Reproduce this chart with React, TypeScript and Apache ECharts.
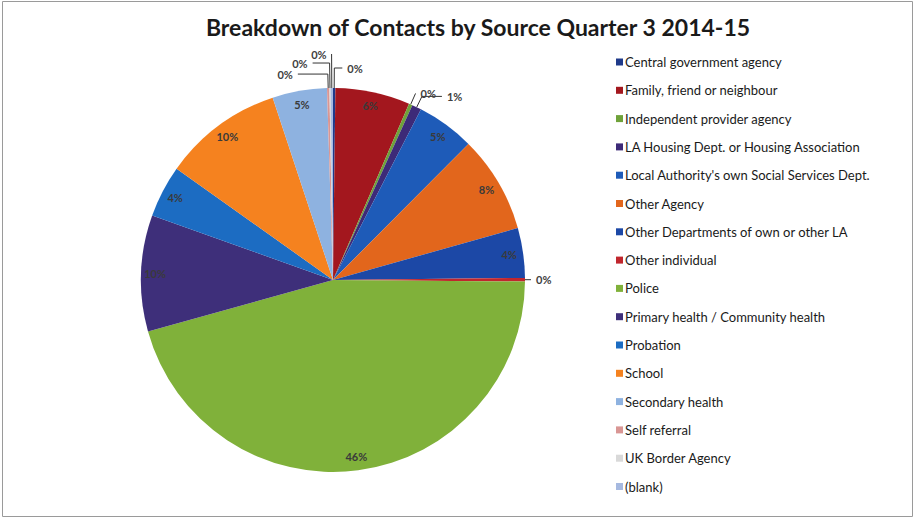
import React, { useEffect, useRef } from "react";
import * as echarts from "echarts";

const categories = [
  "Central government agency",
  "Family, friend or neighbour",
  "Independent provider agency",
  "LA Housing Dept. or Housing Association",
  "Local Authority's own Social Services Dept.",
  "Other Agency",
  "Other Departments of own or other LA",
  "Other individual",
  "Police",
  "Primary health / Community health",
  "Probation",
  "School",
  "Secondary health",
  "Self referral",
  "UK Border Agency",
  "(blank)",
];

const contacts = [2, 63, 3, 8, 49, 82, 42, 3, 457, 98, 44, 101, 46, 2, 1, 2];

const sliceColors = [
  "#1F3A8A",
  "#A3171E",
  "#6FA23A",
  "#3D2A78",
  "#1E5BB8",
  "#E2661C",
  "#1C48A6",
  "#C0262D",
  "#80B13A",
  "#3E2F7A",
  "#1C6CC2",
  "#F5821F",
  "#8EB2E0",
  "#D99694",
  "#D9D9D9",
  "#A6B9E0",
];

const titleText = "Breakdown of Contacts by Source Quarter 3 2014-15";

// leader line styling for the small outside labels (by category name)
const leaderStyle: Record<string, { length: number; length2: number }> = {
  "Central government agency": { length: 20, length2: 8 },
  "Independent provider agency": { length: 12, length2: 0 },
  "LA Housing Dept. or Housing Association": { length: 12, length2: 20 },
  "Other individual": { length: 3, length2: 3 },
  "Self referral": { length: 14, length2: 30 },
  "UK Border Agency": { length: 25, length2: 17 },
  "(blank)": { length: 34, length2: 0 },
};

export default function App() {
  const ref = useRef<HTMLDivElement>(null);

  useEffect(() => {
    document.body.style.margin = "0";
    const chart = echarts.init(ref.current!, null, { renderer: "svg" });
    const total = contacts.reduce((a, b) => a + b, 0);
    const isSmall = (v: number) => (v / total) * 100 < 2;
    const fmt = (p: any) => Math.round(p.percent) + "%";

    chart.setOption({
      animation: false,
      backgroundColor: "#ffffff",
      color: sliceColors,
      title: {
        text: titleText,
        left: 473,
        textAlign: "center",
        top: 10,
        textStyle: {
          fontFamily: "Lato",
          fontWeight: "bold",
          fontSize: 23,
          color: "#1a1a1a",
        },
      },
      legend: {
        orient: "vertical",
        left: 611,
        top: 50,
        icon: "rect",
        itemWidth: 7,
        itemHeight: 7,
        itemGap: 14.3,
        data: categories,
        textStyle: {
          fontFamily: "Lato",
          fontSize: 13,
          lineHeight: 14,
          color: "#1a1a1a",
          padding: [0, 0, 0, -3],
        },
      },
      graphic: [
        {
          type: "rect",
          shape: { x: 2.5, y: 1.5, width: 910, height: 515 },
          style: { fill: "none", stroke: "#9a9a9a", lineWidth: 1 },
          silent: true,
        },
      ],
      series: [
        {
          type: "pie",
          center: [333, 280],
          radius: [0, 192],
          startAngle: 90,
          clockwise: true,
          avoidLabelOverlap: false,
          itemStyle: { borderWidth: 0 },
          emphasis: { disabled: true },
          labelLayout: { hideOverlap: false },
          label: {
            show: true,
            position: "outside",
            formatter: fmt,
            fontFamily: "Lato",
            fontSize: 11,
            fontWeight: "bold",
            color: "#404040",
          },
          labelLine: {
            show: true,
            length: 12,
            length2: 6,
            lineStyle: { color: "#333", width: 1 },
          },
          data: categories.map((name, i) => ({
            name,
            value: contacts[i],
            label: { show: isSmall(contacts[i]) },
            labelLine: {
              show: isSmall(contacts[i]),
              ...(leaderStyle[name] || {}),
            },
          })),
        },
        {
          type: "pie",
          center: [333, 280],
          radius: [158, 192],
          startAngle: 90,
          clockwise: true,
          silent: true,
          emphasis: { disabled: true },
          itemStyle: { color: "rgba(0,0,0,0)", borderWidth: 0 },
          label: {
            show: true,
            position: "inside",
            formatter: fmt,
            fontFamily: "Lato",
            fontSize: 11,
            fontWeight: "bold",
            color: "#3a3a3a",
          },
          labelLine: { show: false },
          data: categories.map((name, i) => ({
            name,
            value: contacts[i],
            label: { show: !isSmall(contacts[i]) },
          })),
        },
      ],
    });
    return () => chart.dispose();
  }, []);

  return <div ref={ref} style={{ width: 916, height: 519 }} />;
}
